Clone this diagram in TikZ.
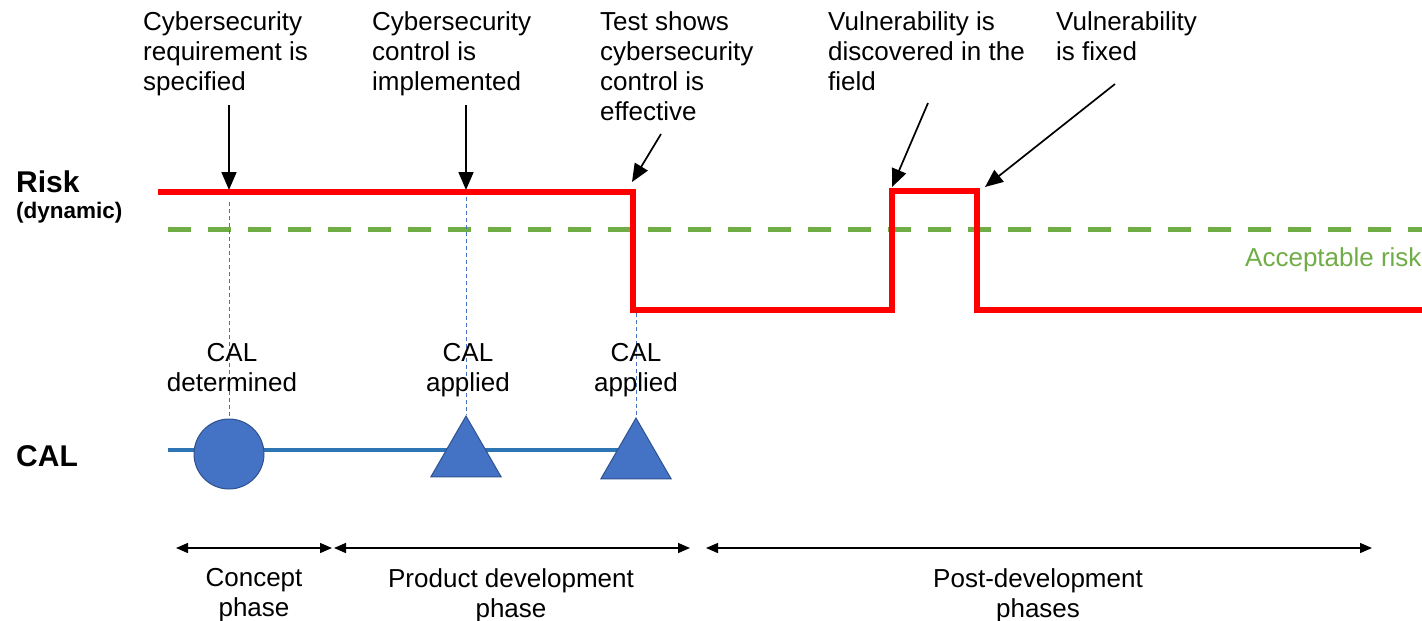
\documentclass[tikz,border=0pt]{standalone}
\usepackage{fontspec}
\setmainfont{Liberation Sans}
\usetikzlibrary{arrows.meta,shapes.geometric}
\definecolor{riskred}{RGB}{255,0,0}
\definecolor{okgreen}{RGB}{112,173,71}
\definecolor{calblue}{RGB}{68,114,196}
\definecolor{calline}{RGB}{46,117,182}
\definecolor{caledge}{RGB}{47,82,143}
\begin{document}
\begin{tikzpicture}[x=1pt,y=-1pt,
  note/.style={anchor=north west, align=left, inner sep=0pt,
    font=\fontsize{26}{30}\selectfont, execute at begin node=\strut},
  centred/.style={anchor=north, align=center, inner sep=0pt,
    font=\fontsize{26}{30}\selectfont, execute at begin node=\strut},
  axislabel/.style={anchor=base west, inner sep=0pt, font=\bfseries\fontsize{30}{34}\selectfont},
  pointer/.style={line width=1.7pt, -{Triangle[length=18pt,width=15pt]}},
  span/.style={line width=1.4pt,
    {Triangle[length=12pt,width=10pt]}-{Triangle[length=12pt,width=10pt]}},
  guide/.style={calblue, line width=1pt, dash pattern=on 4pt off 3pt},
  marker/.style={fill=calblue, draw=caledge, line width=1pt, inner sep=0pt},
  riskline/.style={riskred, line width=6.5pt, line join=miter},
  threshold/.style={okgreen, line width=5pt, dash pattern=on 23pt off 17pt},
]
\useasboundingbox (0,0) rectangle (1422,621);

% axis labels
\node[axislabel] (risk) at (16,192) {Risk};
\node[anchor=base west, inner sep=0pt, font=\bfseries\fontsize{22.5}{26}\selectfont] (dyn) at (16,218) {(dynamic)};
\node[axislabel] (cal) at (16,466) {CAL};

% acceptable risk threshold
\coordinate (g0) at (168,229);
\coordinate (g1) at (1422,229);
\draw[threshold] (g0) -- (g1);
\node[anchor=base west, inner sep=0pt, text=okgreen, font=\fontsize{26}{30}\selectfont] (acc) at (1245,266) {Acceptable risk};

% risk level over time
\coordinate (r0) at (158,192);
\coordinate (r1) at (633,192);
\coordinate (r2) at (633,310);
\coordinate (r3) at (892,310);
\coordinate (r4) at (892,191);
\coordinate (r5) at (977,191);
\coordinate (r6) at (977,310);
\coordinate (r7) at (1422,310);
\draw[riskline] (r0) -- (r1) -- (r2) -- (r3) -- (r4) -- (r5) -- (r6) -- (r7);

% CAL timeline
\coordinate (b0) at (168,450);
\coordinate (b1) at (636,450);
\draw[calline, line width=4pt] (b0) -- (b1);
\node[marker, circle, minimum size=70pt] (m1) at (229,454) {};
\node[marker, regular polygon, regular polygon sides=3, minimum size=81pt] (m2) at (466,456.5) {};
\node[marker, regular polygon, regular polygon sides=3, minimum size=81pt] (m3) at (636,458.5) {};

% vertical guides from risk line to CAL markers
\coordinate (v1) at (229,202);
\coordinate (v2) at (466,197);
\coordinate (v3) at (636,313);
\draw[guide] (v1) -- (m1.north);
\draw[guide] (v2) -- (m2.corner 1);
\draw[guide] (v3) -- (m3.corner 1);

% CAL labels
\node[centred] (l1) at (232,343) {CAL\\determined};
\node[centred] (l2) at (468,343) {CAL\\applied};
\node[centred] (l3) at (636,343) {CAL\\applied};

% event annotations
\node[note] (e1) at (143,11) {Cybersecurity\\requirement is\\specified};
\node[note] (e2) at (372,11) {Cybersecurity\\control is\\implemented};
\node[note] (e3) at (600,11) {Test shows\\cybersecurity\\control is\\effective};
\node[note] (e4) at (828,11) {Vulnerability is\\discovered in the\\field};
\node[note] (e5) at (1056,11) {Vulnerability\\is fixed};

\coordinate (p1s) at (229,105);  \coordinate (p1e) at (229,190);
\coordinate (p2s) at (466,105);  \coordinate (p2e) at (466,190);
\coordinate (p3s) at (661,134);  \coordinate (p3e) at (632,182);
\coordinate (p4s) at (928,103);  \coordinate (p4e) at (892,187);
\coordinate (p5s) at (1115,84);  \coordinate (p5e) at (985,187);
\draw[pointer] (p1s) -- (p1e);
\draw[pointer] (p2s) -- (p2e);
\draw[pointer] (p3s) -- (p3e);
\draw[pointer] (p4s) -- (p4e);
\draw[pointer] (p5s) -- (p5e);

% phases
\coordinate (ph0) at (176,548);
\coordinate (ph1) at (332,548);
\coordinate (ph2) at (334,548);
\coordinate (ph3) at (690,548);
\coordinate (ph4) at (706,548);
\coordinate (ph5) at (1372,548);
\draw[span] (ph0) -- (ph1);
\draw[span] (ph2) -- (ph3);
\draw[span] (ph4) -- (ph5);
\node[centred] (f1) at (254,568) {Concept\\phase};
\node[centred] (f2) at (511,568) {Product development\\phase};
\node[centred] (f3) at (1038,568) {Post-development\\phases};
\end{tikzpicture}
\end{document}
